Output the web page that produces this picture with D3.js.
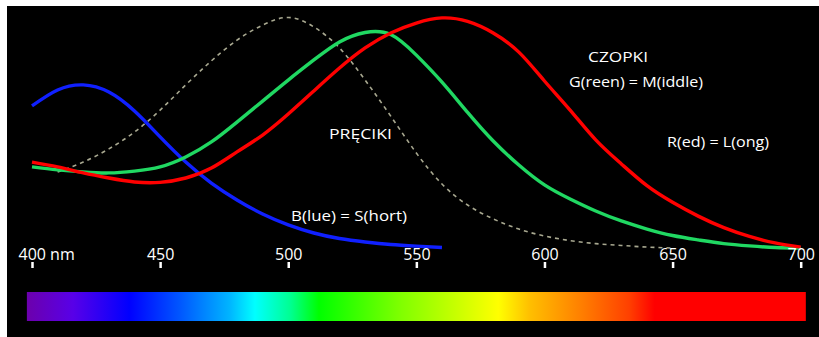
<!DOCTYPE html>
<html>
<head>
  <meta charset="utf-8">
  <title>Czułość czopków i pręcików</title>
  <script src="https://d3js.org/d3.v7.min.js"></script>
  <style>
    body { margin: 0; background: #fff; }
    svg { display: block; }
    text { font-family: "Comic Sans MS", "Open Sans", sans-serif; fill: #fff; }
  </style>
</head>
<body>
  <div id="chart"></div>
  <script>
    // wavelengths (nm) and relative sensitivity
    var waves = [400, 410, 420, 430, 440, 450, 460, 470, 480, 490, 500, 510, 520, 530, 540, 550,
                 560, 570, 580, 590, 600, 610, 620, 630, 640, 650, 660, 670, 680, 690, 700];

    var blueS = [0.615, 0.684, 0.706, 0.675, 0.593, 0.481, 0.372, 0.281, 0.208, 0.147, 0.100,
                 0.065, 0.041, 0.026, 0.015, 0.008, 0.002];
    var greenM = [0.351, 0.338, 0.329, 0.325, 0.333, 0.351, 0.394, 0.459, 0.545, 0.636, 0.727,
                  0.814, 0.892, 0.933, 0.924, 0.835, 0.718, 0.587, 0.463, 0.359, 0.273, 0.212,
                  0.160, 0.117, 0.082, 0.054, 0.035, 0.019, 0.009, 0.002, 0];
    var redL = [0.372, 0.351, 0.325, 0.303, 0.286, 0.284, 0.303, 0.346, 0.416, 0.489, 0.580,
                0.680, 0.779, 0.866, 0.931, 0.974, 0.996, 0.981, 0.931, 0.848, 0.723, 0.597,
                0.468, 0.364, 0.270, 0.198, 0.138, 0.088, 0.050, 0.022, 0.004];
    // rods start at 410 nm
    var rods = [0.329, 0.372, 0.429, 0.502, 0.597, 0.706, 0.810, 0.900, 0.965, 0.998, 0.957,
                0.866, 0.727, 0.571, 0.411, 0.277, 0.186, 0.126, 0.082, 0.052, 0.032, 0.019,
                0.011, 0.004, 0];

    var tickValues = [400, 450, 500, 550, 600, 650, 700];

    // spectrum colours by wavelength
    var spectrumNm = [398, 416, 438, 458, 477, 487, 501, 512, 544, 582, 594, 614, 633, 643, 702];
    var spectrumCol = ["#6c00ac", "#5800e8", "#0000ff", "#0058ff", "#00b4ff", "#00ffff", "#00ff90",
                       "#00ff00", "#80ff00", "#ffff00", "#ffc000", "#ff8000", "#ff4000", "#ff0000", "#ff0000"];

    var svg = d3.select("#chart").append("svg")
      .attr("width", 819)
      .attr("height", 337);

    // black panel
    svg.append("rect")
      .attr("x", 7).attr("y", 6)
      .attr("width", 812).attr("height", 331)
      .attr("fill", "#000");

    var x = d3.scaleLinear().domain([400, 700]).range([32, 800.7]);
    var y = d3.scaleLinear().domain([0, 1]).range([248, 17]);

    function series(vals, start) {
      return vals.map(function(v, i) { return {w: waves[i + start], v: v}; });
    }

    var line = d3.line()
      .x(function(d) { return x(d.w); })
      .y(function(d) { return y(d.v); })
      .curve(d3.curveNatural);

    // rods (dashed)
    svg.append("path")
      .datum(series(rods, 1))
      .attr("d", line)
      .attr("fill", "none")
      .attr("stroke", "#a8a890")
      .attr("stroke-width", 1.6)
      .attr("stroke-dasharray", "4,4");

    var cones = [
      {vals: blueS, color: "#1020ff"},
      {vals: greenM, color: "#20d862"},
      {vals: redL, color: "#ff0000"}
    ];
    cones.forEach(function(c) {
      svg.append("path")
        .datum(series(c.vals, 0))
        .attr("d", line)
        .attr("fill", "none")
        .attr("stroke", c.color)
        .attr("stroke-width", 3.4);
    });

    // axis above the spectrum
    var axis = svg.append("g")
      .attr("transform", "translate(0,268)")
      .call(d3.axisTop(x)
        .tickValues(tickValues)
        .tickSize(6)
        .tickPadding(2)
        .tickFormat(function(d) { return d; }));
    axis.select(".domain").remove();
    axis.selectAll(".tick line").attr("stroke", "#fff").attr("stroke-width", 2.5);
    axis.selectAll(".tick text")
      .attr("fill", "#fff")
      .style("font-size", "16px")
      .style("font-family", "\"Comic Sans MS\", \"Open Sans\", sans-serif");
    axis.selectAll(".tick").filter(function(d) { return d === 400; }).select("text")
      .attr("text-anchor", "start")
      .attr("x", -14)
      .text("400 nm");

    // spectrum bar
    var grad = svg.append("defs").append("linearGradient")
      .attr("id", "spectrum")
      .attr("gradientUnits", "userSpaceOnUse")
      .attr("x1", x(spectrumNm[0])).attr("x2", x(spectrumNm[spectrumNm.length - 1]))
      .attr("y1", 0).attr("y2", 0);
    grad.selectAll("stop")
      .data(spectrumNm)
      .enter().append("stop")
      .attr("offset", function(d) { return (d - spectrumNm[0]) / (spectrumNm[spectrumNm.length - 1] - spectrumNm[0]); })
      .attr("stop-color", function(d, i) { return spectrumCol[i]; });

    svg.append("rect")
      .attr("x", x(398)).attr("y", 292)
      .attr("width", x(702) - x(398)).attr("height", 29)
      .attr("fill", "url(#spectrum)");

    // labels
    var labels = [
      {t: "PRĘCIKI", x: 329, y: 139, w: 63},
      {t: "B(lue) = S(hort)", x: 291, y: 221, w: 116},
      {t: "CZOPKI", x: 588, y: 62, w: 60},
      {t: "G(reen) = M(iddle)", x: 569, y: 87, w: 134},
      {t: "R(ed) = L(ong)", x: 667, y: 147, w: 102}
    ];
    svg.selectAll(".lbl")
      .data(labels)
      .enter().append("text")
      .attr("class", "lbl")
      .attr("x", function(d) { return d.x; })
      .attr("y", function(d) { return d.y; })
      .attr("textLength", function(d) { return d.w; })
      .attr("lengthAdjust", "spacingAndGlyphs")
      .style("font-size", "15px")
      .text(function(d) { return d.t; });
  </script>
</body>
</html>
